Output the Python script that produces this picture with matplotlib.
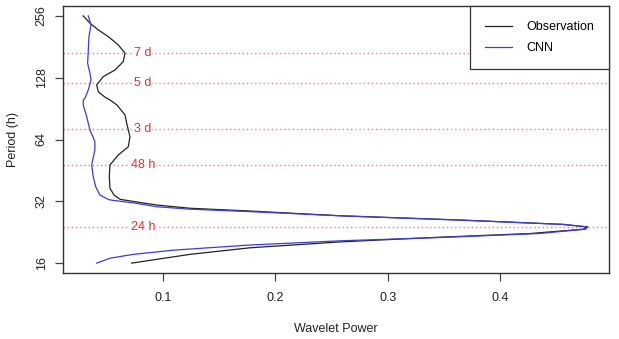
import matplotlib
matplotlib.use("Agg")
import matplotlib.pyplot as plt
import numpy as np

plt.rcParams['font.family'] = ['Liberation Sans', 'DejaVu Sans']

# Observation: period (hours) and wavelet power
obs_period = [256, 235.9, 218.7, 202.9, 184.9, 168.4, 153.2, 139.6, 129.5,
              118.0, 109.4, 102.8, 99.7, 94.3, 84.3, 76.8, 66.0, 59.0, 53.8,
              48.1, 42.2, 37.0, 34.3, 32.7, 31.8, 30.7, 29.6, 28.7, 27.2,
              25.9, 24.7, 24.0, 23.4, 22.3, 21.3, 20.3, 19.0, 17.65, 16.5, 16]
obs_power = [0.029, 0.035, 0.0424, 0.0513, 0.0602, 0.0662, 0.0646, 0.0573,
             0.0468, 0.0410, 0.0424, 0.0484, 0.0528, 0.059, 0.0662, 0.0677,
             0.0706, 0.0691, 0.0602, 0.0528, 0.0522, 0.0528, 0.0565, 0.062,
             0.076, 0.0944, 0.124, 0.1775, 0.258, 0.367, 0.456, 0.478, 0.474,
             0.427, 0.338, 0.258, 0.1775, 0.124, 0.0884, 0.0721]

# CNN: period (hours) and wavelet power
cnn_period = [256, 231.4, 202.9, 174.8, 150.5, 134.6, 124.8, 111.6, 101.6,
              99.7, 94.3, 82.6, 71.2, 62.5, 56.9, 48.1, 42.2, 37.7, 34.3,
              32.7, 32.5, 31.8, 31.3, 30.1, 29.3, 28.5, 27.2, 25.9, 24.7, 24.0,
              23.4, 22.3, 21.3, 20.55, 19.6, 18.5, 17.65, 16.9, 16]
cnn_power = [0.0335, 0.0359, 0.0341, 0.0335, 0.0329, 0.0350, 0.0359, 0.0335,
             0.0305, 0.029, 0.029, 0.0321, 0.035, 0.0394, 0.0394, 0.0365,
             0.0379, 0.0401, 0.0439, 0.0513, 0.0528, 0.0662, 0.0760, 0.0944,
             0.124, 0.1775, 0.258, 0.367, 0.456, 0.478, 0.476, 0.435, 0.345,
             0.258, 0.1775, 0.1092, 0.0736, 0.0528, 0.041]

ref_periods = [168, 120, 72, 48, 24]
ref_labels = ["7 d", "5 d", "3 d", "48 h", "24 h"]
label_x = 0.082

yticks = [16, 32, 64, 128, 256]
xticks = [0.1, 0.2, 0.3, 0.4]

FS = 9

fig = plt.figure(figsize=(6.19, 3.39), dpi=100)
ax = fig.add_axes([63/619, 1-273/339, 546/619, 267/339])

ax.plot(obs_power, obs_period, color='#222222', lw=0.9, label='Observation',
        solid_joinstyle='round')
ax.plot(cnn_power, cnn_period, color='#3a3ae8', lw=0.9, label='CNN',
        solid_joinstyle='round')

for p, lab in zip(ref_periods, ref_labels):
    ax.axhline(p, color='#ff7088', lw=1.0, ls=(0, (1, 2.0)), zorder=0)
    ax.text(label_x, p, lab, color='#ee2a2a', fontsize=FS, ha='center',
            va='center', bbox=dict(facecolor='white', edgecolor='none', pad=0.6),
            zorder=1)

ax.set_yscale('log', base=2)
lo, hi = np.log2(16), np.log2(256)
pad = 0.04 * (hi - lo)
ax.set_ylim(2 ** (lo - pad), 2 ** (hi + pad))
ax.set_xlim(0.011, 0.497)
ax.set_yticks(yticks)
ax.set_yticklabels([str(t) for t in yticks], rotation=90, va='center')
ax.minorticks_off()
ax.set_xticks(xticks)
ax.set_xticklabels([str(t) for t in xticks])
ax.tick_params(axis='both', direction='out', length=6, width=0.9,
               color='#444444', labelsize=FS, labelcolor='#222222')
ax.tick_params(axis='x', pad=8)
ax.tick_params(axis='y', pad=5)
for s in ax.spines.values():
    s.set_color('#333333')
    s.set_linewidth(1.0)

ax.set_xlabel('Wavelet Power', fontsize=FS, color='#222222', labelpad=13)
ax.set_ylabel('Period (h)', fontsize=FS, color='#222222', labelpad=12)

leg = ax.legend(loc='upper right', bbox_to_anchor=(1.0, 1.0), borderaxespad=0,
                fancybox=False, edgecolor='#333333', fontsize=FS,
                handlelength=2.2, handletextpad=1.1, borderpad=1.2,
                labelspacing=0.75, framealpha=1)
leg.get_frame().set_linewidth(0.9)

fig.savefig('out.png', dpi=100)
